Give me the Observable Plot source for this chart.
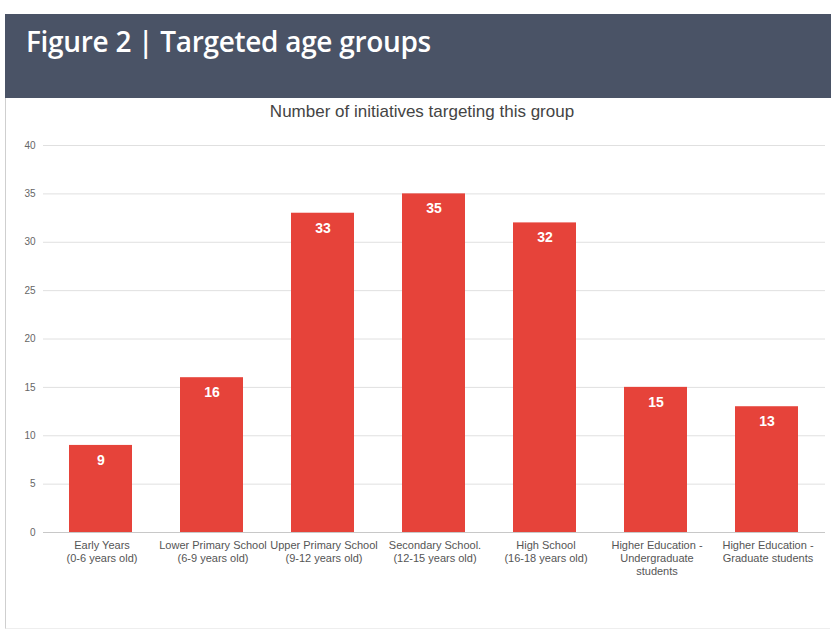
<!DOCTYPE html>
<html>
<head>
<meta charset="utf-8">
<script src="https://cdn.jsdelivr.net/npm/d3@7"></script>
<script src="https://cdn.jsdelivr.net/npm/@observablehq/plot@0.6"></script>
<style>
  html, body { margin: 0; padding: 0; background: #fff; }
  #page { position: relative; width: 831px; height: 631px; overflow: hidden; }
  #header { position: absolute; left: 5px; top: 14px; width: 826px; height: 84px; background: #4a5366; }
  #header h1 { margin: 0; position: absolute; left: 21px; top: 11px; color: #fff; font-family: "Open Sans", sans-serif; font-weight: 600; font-size: 28px; letter-spacing: -0.3px; line-height: 1.2; }
  #panel { position: absolute; left: 5px; top: 98px; width: 824px; height: 530px; border-left: 1px solid #cfcfcf; border-bottom: 1px solid #eee; }
  #ctitle { position: absolute; left: 0; width: 844px; top: 102px; text-align: center; font-family: "Liberation Sans", Arial, sans-serif; font-size: 17px; color: #444; }
  #chart { position: absolute; left: 0; top: 100px; }
</style>
</head>
<body>
<div id="page">
  <div id="header"><h1>Figure 2 | Targeted age groups</h1></div>
  <div id="panel"></div>
  <div id="ctitle">Number of initiatives targeting this group</div>
  <div id="chart"></div>
</div>
<script>
const categories = [
  "Early Years\n(0-6 years old)",
  "Lower Primary School\n(6-9 years old)",
  "Upper Primary School\n(9-12 years old)",
  "Secondary School.\n(12-15 years old)",
  "High School\n(16-18 years old)",
  "Higher Education -\nUndergraduate\nstudents",
  "Higher Education -\nGraduate students"
];
const values = [9, 16, 33, 35, 32, 15, 13];
const yTicks = [0, 5, 10, 15, 20, 25, 30, 35, 40];

const data = categories.map((c, i) => ({category: c, value: values[i]}));

const chart = Plot.plot({
  width: 831,
  height: 520,
  marginTop: 45,
  marginBottom: 88,
  marginLeft: 44,
  marginRight: 7,
  style: {fontFamily: "'Liberation Sans', Arial, sans-serif", background: "transparent"},
  x: {domain: categories, paddingInner: 0.435, paddingOuter: 0.2175, label: null},
  y: {domain: [0, 40], label: null},
  marks: [
    Plot.ruleY(yTicks.filter(d => d > 0), {stroke: "#e0e0e0", strokeWidth: 1, insetLeft: -1, insetRight: -1}),
    Plot.ruleY([0], {stroke: "#c8c8c8", strokeWidth: 1, insetLeft: -1, insetRight: -1}),
    Plot.barY(data, {x: "category", y: "value", fill: "#e6433a", dx: -1}),
    Plot.text(data, {x: "category", y: "value", text: d => String(d.value), dy: 15, dx: -1, fill: "#fff", fontWeight: "bold", fontSize: 14}),
    Plot.axisY({ticks: yTicks, tickSize: 0, tickPadding: 9, fontSize: 10, color: "#666", label: null}),
    Plot.axisX({tickSize: 0, tickPadding: 8, fontSize: 11, color: "#555", lineHeight: 1.15, label: null})
  ]
});
document.getElementById("chart").appendChild(chart);
</script>
</body>
</html>
